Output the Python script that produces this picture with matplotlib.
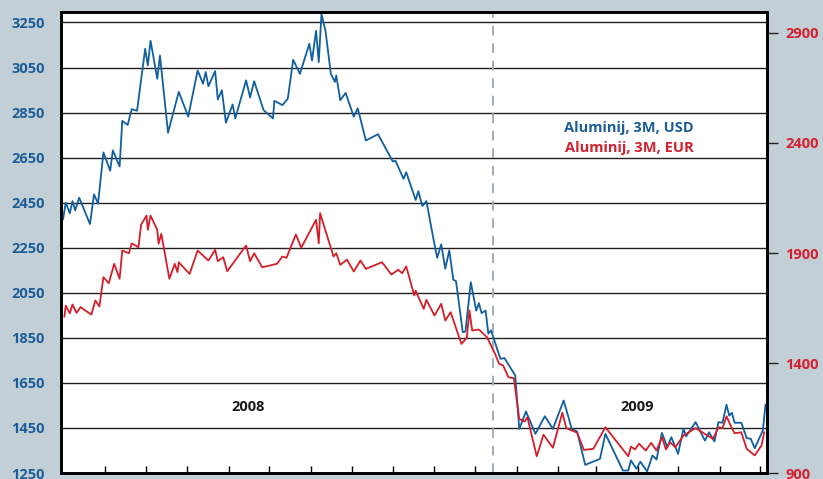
import matplotlib
matplotlib.use("Agg")
import matplotlib.pyplot as plt
import numpy as np
import pandas as pd

# ---- data (day number counted from 2008-01-01) ----
usd_days = [43, 45, 48, 50, 52, 55, 63, 66, 69, 73, 78, 80, 85, 87, 91, 94, 98, 104, 106, 108,
            113, 115, 121, 129, 136, 143, 147, 149, 151, 156, 158, 161, 164, 169, 171, 179, 182,
            185, 192, 199, 200, 206, 210, 214, 219, 226, 228, 231, 233, 235, 238, 242, 245, 246,
            249, 253, 259, 262, 268, 277, 288, 290, 296, 298, 305, 307, 310, 313, 318, 321, 324,
            327, 330, 333, 335, 340, 342, 346, 350, 352, 354, 357, 359, 361, 368, 371, 379, 382,
            387, 394, 401, 407, 415, 421, 425, 431, 442, 446, 459, 463, 465, 469, 472, 477, 481,
            484, 488, 492, 495, 500, 504, 506, 513, 520, 523, 527, 530, 533, 536, 538, 540, 542,
            547, 551, 554, 557, 563, 565]
usd_vals = [2377, 2450, 2403, 2457, 2416, 2472, 2355, 2487, 2446, 2673, 2592, 2682, 2611, 2813,
            2795, 2865, 2858, 3133, 3059, 3169, 3000, 3103, 2761, 2942, 2832, 3037, 2978, 3030,
            2967, 3034, 2908, 2949, 2805, 2886, 2824, 2993, 2917, 2989, 2861, 2824, 2902, 2883,
            2912, 3084, 3022, 3155, 3081, 3213, 3074, 3287, 3213, 3022, 2986, 3015, 2905, 2937,
            2832, 2869, 2726, 2754, 2633, 2636, 2556, 2585, 2462, 2501, 2435, 2457, 2296, 2205,
            2265, 2157, 2238, 2108, 2102, 1875, 1878, 2097, 1971, 2004, 1960, 1971, 1868, 1883,
            1757, 1760, 1683, 1446, 1523, 1424, 1502, 1446, 1572, 1446, 1434, 1286, 1313, 1424,
            1261, 1261, 1306, 1269, 1300, 1257, 1328, 1310, 1428, 1365, 1409, 1335, 1446, 1413,
            1476, 1394, 1431, 1390, 1476, 1473, 1553, 1505, 1517, 1473, 1473, 1405, 1402, 1360,
            1439, 1553]

eur_days = [44, 45, 48, 50, 53, 56, 64, 67, 70, 73, 77, 81, 85, 87, 92, 94, 99, 101, 105, 106,
            108, 113, 114, 116, 122, 126, 128, 129, 137, 143, 151, 156, 158, 162, 165, 179, 182,
            185, 191, 202, 206, 209, 216, 220, 231, 233, 234, 244, 246, 249, 254, 259, 264, 268,
            280, 287, 292, 295, 298, 304, 305, 311, 313, 319, 324, 327, 331, 339, 343, 345, 347,
            352, 358, 364, 367, 370, 374, 378, 382, 386, 388, 395, 400, 407, 414, 417, 425, 430,
            437, 446, 463, 465, 468, 471, 476, 480, 484, 488, 491, 494, 498, 504, 513, 526, 530,
            533, 536, 539, 542, 547, 551, 557, 562, 564]
eur_vals = [1611, 1661, 1626, 1666, 1628, 1654, 1620, 1684, 1657, 1790, 1763, 1851, 1783, 1911,
            1899, 1944, 1926, 2029, 2070, 2005, 2070, 2005, 1942, 1987, 1783, 1851, 1813, 1858,
            1805, 1911, 1866, 1914, 1863, 1881, 1817, 1934, 1863, 1899, 1835, 1851, 1884, 1878,
            1984, 1924, 2051, 1944, 2081, 1884, 1899, 1846, 1870, 1816, 1866, 1828, 1858, 1802,
            1824, 1808, 1839, 1707, 1729, 1646, 1687, 1616, 1669, 1593, 1631, 1487, 1514, 1639,
            1548, 1552, 1517, 1442, 1396, 1389, 1335, 1331, 1146, 1134, 1154, 976, 1074, 1015,
            1174, 1104, 1083, 1005, 1010, 1108, 976, 1020, 1007, 1033, 1002, 1037, 1002, 1063,
            1007, 1040, 1017, 1070, 1104, 1055, 1108, 1104, 1158, 1116, 1081, 1085, 1010, 980,
            1025, 1085]

usd_ticks = list(range(1250, 3251, 200))
eur_ticks = list(range(900, 2901, 500))
year_labels = ["2008", "2009"]
series_labels = ["Aluminij, 3M, USD", "Aluminij, 3M, EUR"]

# ---- style ----
BG = "#c3cfd7"
BLUE = "#115f9f"
RED = "#d41f2b"
BLUE_TXT = "#1d5e98"
RED_TXT = "#d42030"
FONT = "Open Sans"

base = pd.Timestamp("2008-01-01")
tick_dates = pd.date_range("2008-03-01", "2009-07-01", freq="MS") + pd.Timedelta(days=14)
month_ticks = [(d - base).days for d in tick_dates]
year_boundary = 362.5

fig = plt.figure(figsize=(8.23, 4.79), dpi=100, facecolor=BG)
ax = fig.add_axes([0.0745, 0.0125, 0.8578, 0.9618])
ax.set_facecolor("white")
ax2 = ax.twinx()

ax.plot(usd_days, usd_vals, color=BLUE, lw=1.3, zorder=3)
ax2.plot(eur_days, eur_vals, color=RED, lw=1.3, zorder=3)

ax.set_xlim(41.7, 566.3)
ax.set_ylim(1250, 3295)
ax2.set_ylim(900, 2994)

ax.set_yticks(usd_ticks)
ax.set_yticklabels([str(v) for v in usd_ticks])
ax2.set_yticks(eur_ticks)
ax2.set_yticklabels([str(v) for v in eur_ticks])

ax.grid(axis="y", color="#222222", lw=1.0, zorder=1)
ax.axvline(year_boundary, color="#a3adb6", lw=1.4, dashes=(5, 4), zorder=2)

ax.set_xticks(month_ticks)
ax.set_xticklabels([])
ax.tick_params(axis="x", direction="in", length=5, width=1.0, color="black", bottom=True)
ax.tick_params(axis="y", length=0, pad=12, labelsize=10.5, labelcolor=BLUE_TXT)
ax2.tick_params(axis="y", direction="out", length=8, width=1.0, color="#222222",
                pad=5, labelsize=10.5, labelcolor=RED_TXT)
for lab in ax.get_yticklabels():
    lab.set_fontfamily(FONT)
    lab.set_fontweight("bold")
for lab in ax2.get_yticklabels():
    lab.set_fontfamily(FONT)
    lab.set_fontweight("bold")

for a in (ax, ax2):
    for s in a.spines.values():
        s.set_linewidth(1.9)
        s.set_color("black")

ax.text(0.2644, 0.143, year_labels[0], transform=ax.transAxes, ha="center", va="center",
        fontsize=10.5, fontweight="bold", family=FONT, color="#1a1a1a")
ax.text(0.815, 0.143, year_labels[1], transform=ax.transAxes, ha="center", va="center",
        fontsize=10.5, fontweight="bold", family=FONT, color="#1a1a1a")
ax.text(0.804, 0.749, series_labels[0], transform=ax.transAxes, ha="center", va="center",
        fontsize=10.5, fontweight="bold", family=FONT, color=BLUE_TXT)
ax.text(0.804, 0.706, series_labels[1], transform=ax.transAxes, ha="center", va="center",
        fontsize=10.5, fontweight="bold", family=FONT, color=RED_TXT)

fig.savefig("out.png", dpi=100, facecolor=BG)
